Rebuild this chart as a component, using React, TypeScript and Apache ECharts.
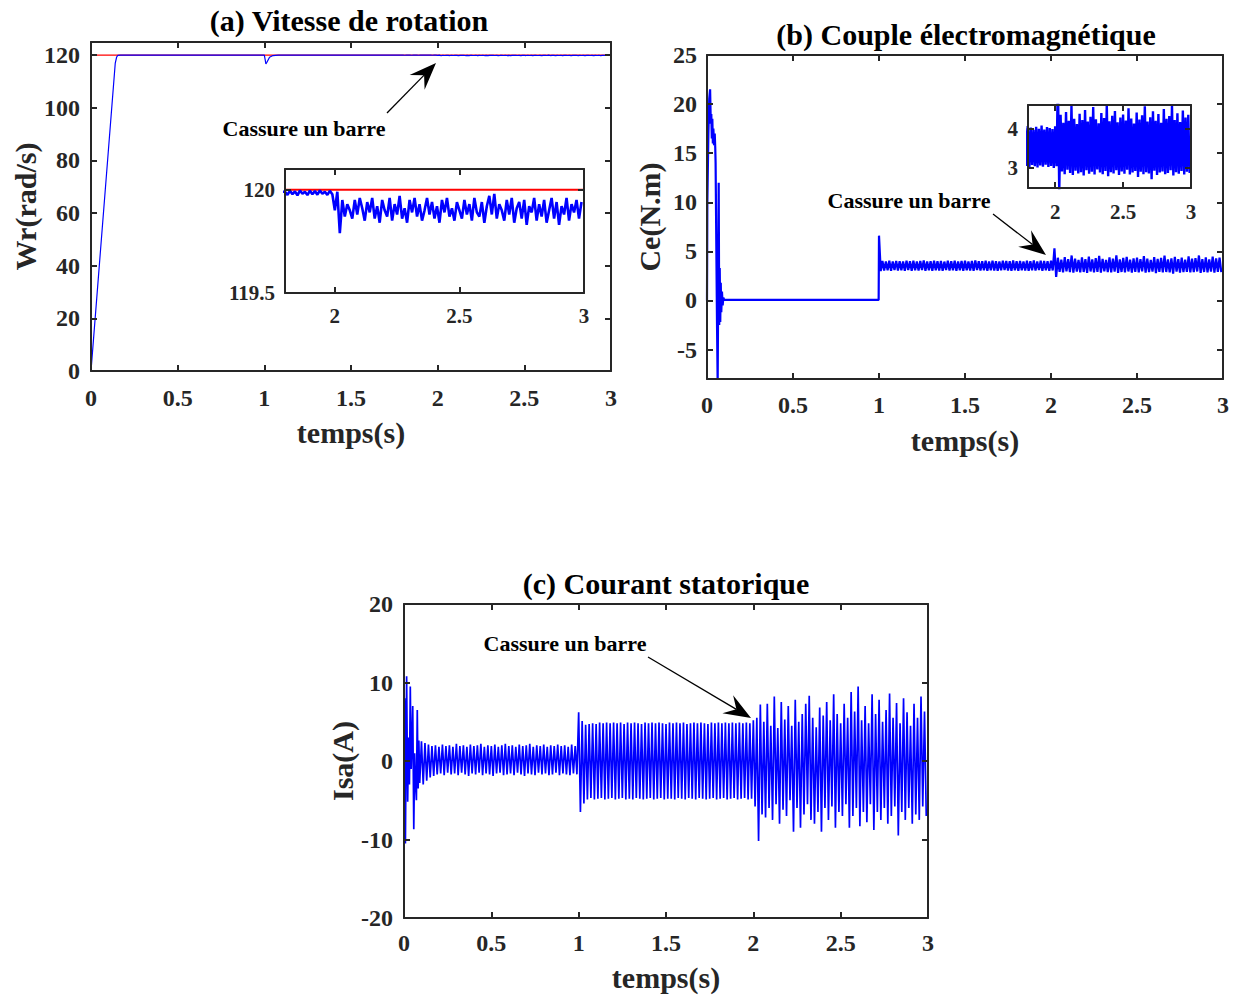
import { useEffect, useRef } from "react";
import * as echarts from "echarts";

const SERIF = '"Liberation Serif", "Times New Roman", Times, serif';
const INK = "#262626";
const BLUE = "#0000ff";
const RED = "#ff0000";

// ---- tick positions ----
const timeTicks = [0, 0.5, 1, 1.5, 2, 2.5, 3];
const zoomTimeTicks = [2, 2.5, 3];
const speedTicks = [0, 20, 40, 60, 80, 100, 120];
const zoomSpeedTicks = [119.5, 120];
const torqueTicks = [-5, 0, 5, 10, 15, 20, 25];
const zoomTorqueTicks = [3, 4];
const currentTicks = [-20, -10, 0, 10, 20];

// ---- (a) rotor speed, rad/s ----
const speedRef: [number, number][] = [
  [0, 120],
  [3, 120],
];
const speedStart: [number, number][] = [
  [0, 0], [0.1, 83.6], [0.14, 117], [0.148, 119.3], [0.155, 119.95], [0.17, 119.99],
  [0.6, 119.99], [1.0, 119.99], [1.004, 118.6], [1.009, 116.7], [1.015, 117.3],
  [1.03, 119.2], [1.05, 119.85], [1.08, 119.98], [1.5, 119.99], [1.79, 119.99],
];
// 10 ms samples from t = 1.80 s
const speedDetailT0 = 1.8;
const speedDetail = [
  119.99, 119.975, 119.995, 119.978, 119.992, 119.972, 119.996, 119.98, 119.99, 119.974,
  119.995, 119.978, 119.993, 119.976, 119.996, 119.98, 119.99, 119.975, 119.994, 119.978,
  119.9, 119.99, 119.79,
  119.95, 119.87, 119.93, 119.9, 119.86, 119.95, 119.88, 119.96, 119.91, 119.85,
  119.94, 119.89, 119.96, 119.86, 119.92, 119.84, 119.95, 119.9, 119.87, 119.96,
  119.85, 119.93, 119.88, 119.97, 119.86, 119.91, 119.84, 119.95, 119.89, 119.96,
  119.87, 119.93, 119.85, 119.9, 119.96, 119.88, 119.94, 119.86, 119.92, 119.84,
  119.95, 119.89, 119.96, 119.87, 119.91, 119.85, 119.94, 119.9, 119.86, 119.95,
  119.88, 119.93, 119.85, 119.96, 119.89, 119.87, 119.94, 119.84, 119.92, 119.97,
  119.88, 119.98, 119.86, 119.93, 119.9, 119.85, 119.95, 119.88, 119.96, 119.84,
  119.91, 119.94, 119.86, 119.95, 119.83, 119.92, 119.89, 119.96, 119.85, 119.93,
  119.87, 119.95, 119.84, 119.9, 119.96, 119.86, 119.94, 119.83, 119.92, 119.88,
  119.96, 119.85, 119.93, 119.89, 119.95, 119.86, 119.94,
];

// ---- (b) electromagnetic torque, N.m ----
const torqueStart: [number, number][] = [
  [0, 0], [0.002, 10], [0.008, 17], [0.013, 20.5], [0.018, 21.5], [0.022, 18], [0.025, 19],
  [0.028, 16.5], [0.031, 18.5], [0.034, 16], [0.037, 17.5], [0.041, 15.8], [0.045, 17],
  [0.048, 15.5], [0.05, 14], [0.054, 6], [0.058, -2], [0.062, -8.5], [0.065, 1], [0.068, 12],
  [0.071, -2.5], [0.074, 3.3], [0.077, -2.2], [0.08, 1.8], [0.083, -1.2], [0.087, 0.9],
  [0.091, -0.5], [0.095, 0.3], [0.1, 0.05], [0.998, 0.05], [1.0, 6.6], [1.01, 3.0],
];
// [peak, trough] pairs, 10 ms apart, from t = 1.02 s
const torqueBandT0 = 1.02;
const torqueBand: [number, number][] = [
  [4.02, 3.05], [3.98, 3.08], [4.05, 3.02], [3.97, 3.1], [4.03, 3.04], [4.0, 3.07], [3.96, 3.03], [4.06, 3.09], [3.99, 3.01], [4.04, 3.06],
  [3.98, 3.04], [4.02, 3.1], [4.07, 3.03], [3.97, 3.07], [4.01, 3.02], [4.05, 3.08], [3.99, 3.05], [4.03, 3.01], [3.96, 3.09], [4.04, 3.04],
  [4.0, 3.06], [4.06, 3.02], [3.98, 3.08], [4.02, 3.03], [4.05, 3.07], [3.97, 3.05], [4.03, 3.01], [4.08, 3.09], [3.99, 3.04], [4.01, 3.06],
  [4.04, 3.02], [3.98, 3.08], [4.06, 3.05], [4.0, 3.03], [3.96, 3.07], [4.05, 3.1], [4.02, 3.04], [3.99, 3.01], [4.07, 3.06], [4.01, 3.03],
  [4.03, 3.08], [3.97, 3.05], [4.05, 3.02], [4.0, 3.07], [4.08, 3.04], [3.98, 3.09], [4.04, 3.03], [4.02, 3.06], [3.99, 3.01], [4.06, 3.05],
  [5.3, 2.4],
  [4.35, 2.92], [4.15, 2.85], [4.42, 2.96], [4.2, 2.88], [4.58, 2.83], [4.25, 2.94], [4.12, 2.87], [4.38, 2.9], [4.22, 2.82], [4.47, 2.95],
  [4.18, 2.86], [4.3, 2.91], [4.55, 2.84], [4.24, 2.97], [4.14, 2.89], [4.4, 2.85], [4.27, 2.93], [4.6, 2.8], [4.19, 2.9], [4.33, 2.87],
  [4.45, 2.95], [4.16, 2.83], [4.28, 2.92], [4.36, 2.86], [4.21, 2.96], [4.52, 2.84], [4.26, 2.89], [4.13, 2.93], [4.41, 2.78], [4.23, 2.91],
  [4.34, 2.85], [4.57, 2.9], [4.18, 2.87], [4.29, 2.72], [4.44, 2.94], [4.2, 2.83], [4.37, 2.89], [4.15, 2.92], [4.5, 2.85], [4.25, 2.88],
  [4.32, 2.95], [4.58, 2.82], [4.22, 2.9], [4.39, 2.86], [4.17, 2.93], [4.46, 2.84], [4.28, 2.91], [4.35, 2.88],
];

// ---- (c) stator current, A ----
const isaStart: [number, number][] = [
  [0, 0], [0.004, 8], [0.008, -10.5], [0.015, 10.8], [0.021, -5.2], [0.026, 3], [0.031, -3],
  [0.036, 9.5], [0.041, -1], [0.045, 2], [0.05, 7], [0.056, -8.7], [0.061, 1], [0.066, -3],
  [0.071, -5], [0.076, 6.5], [0.081, -3.5], [0.085, 2.6], [0.09, -2.8],
];
// [peak, trough] pairs, one 50 Hz half-period (10 ms) apart
const isaIdleT0 = 0.1;
const isaIdle: [number, number][] = [
  [2.5, -3.0], [2.3, -2.5], [2.1, -2.1], [1.9, -1.9], [2.0, -1.7],
  [1.8, -1.6], [2.1, -1.8], [1.9, -1.5], [2.0, -1.7], [1.8, -1.6],
  [2.2, -1.8], [1.9, -1.5], [2.0, -1.7], [1.8, -1.9], [2.1, -1.6],
  [1.9, -1.7], [2.0, -1.5], [2.2, -1.8], [1.8, -1.6], [2.0, -1.7],
  [1.9, -1.9], [2.1, -1.6], [1.8, -1.5], [2.0, -1.8], [2.2, -1.7],
  [1.9, -1.6], [2.0, -1.8], [1.8, -1.5], [2.1, -1.7], [1.9, -1.9],
  [2.0, -1.6], [2.2, -1.7], [1.8, -1.8], [2.0, -1.5], [1.9, -1.7],
  [2.1, -1.6], [1.8, -1.8], [2.0, -1.7], [1.9, -1.5], [2.1, -1.8],
  [1.9, -1.6], [2.0, -1.7], [1.8, -1.8], [2.1, -1.6], [1.9, -1.7],
];
const isaLoadT0 = 1.0;
const isaLoad: [number, number][] = [
  [6.2, -6.5], [5.1, -5.4], [4.6, -4.9], [4.7, -4.7], [4.8, -4.9],
  [4.7, -4.8], [4.9, -4.7], [4.8, -4.9], [4.9, -4.8], [4.8, -4.7],
  [4.9, -4.9], [4.8, -4.8], [4.9, -4.7], [4.7, -4.9], [4.9, -4.8],
  [4.8, -4.9], [4.9, -4.7], [4.8, -4.8], [4.7, -4.9], [4.9, -4.8],
  [4.8, -4.7], [4.9, -4.9], [4.8, -4.8], [4.9, -4.7], [4.8, -4.9],
  [4.7, -4.8], [4.9, -4.8], [4.8, -4.9], [4.9, -4.7], [4.8, -4.8],
  [4.9, -4.9], [4.7, -4.7], [4.8, -4.8], [4.9, -4.9], [4.8, -4.7],
  [4.9, -4.8], [4.8, -4.9], [4.7, -4.8], [4.9, -4.7], [4.8, -4.9],
  [4.9, -4.8], [4.8, -4.7], [4.9, -4.9], [4.8, -4.8], [4.9, -4.7],
  [4.8, -4.9], [4.9, -4.8], [4.8, -4.7], [4.9, -4.9], [4.8, -4.8],
];
const isaFaultT0 = 2.0;
const isaFault: [number, number][] = [
  [5.2, -5.8], [5.5, -10.2], [7.2, -6.8], [5.0, -7.2], [7.3, -6.0], [4.5, -7.5], [8.2, -5.5], [4.2, -8.0], [7.5, -6.2], [5.3, -7.0],
  [7.0, -5.0], [4.5, -9.0], [7.8, -6.0], [5.0, -8.5], [6.0, -6.8], [7.3, -5.5], [8.3, -7.5], [5.5, -8.0], [4.3, -6.5], [6.8, -9.0],
  [5.8, -6.0], [7.5, -7.5], [5.2, -5.8], [8.5, -8.5], [6.0, -6.5], [4.8, -7.0], [7.3, -5.5], [5.5, -8.5], [8.8, -7.0], [6.3, -6.0],
  [9.5, -8.3], [5.2, -6.5], [7.0, -7.8], [4.8, -5.5], [8.5, -8.8], [6.0, -6.5], [7.8, -7.5], [5.0, -6.0], [6.5, -8.0], [8.6, -7.0],
  [5.5, -5.8], [7.4, -9.5], [4.8, -6.5], [8.0, -7.5], [6.2, -6.0], [4.5, -8.0], [7.3, -6.8], [5.5, -7.5], [8.2, -5.8], [6.3, -7.0],
];

// ---- helpers that turn sampled readings into [t, value] points ----
const STEP = 0.01;
const round = (t: number) => Math.round(t * 10000) / 10000;
const sampled = (t0: number, vals: number[]) => vals.map((v, i) => [round(t0 + i * STEP), v]);
const zigzag = (t0: number, pairs: [number, number][]) =>
  pairs.flatMap(([hi, lo], i) => [
    [round(t0 + 2 * i * STEP), hi],
    [round(t0 + (2 * i + 1) * STEP), lo],
  ]);

const speedData = [...speedStart, ...sampled(speedDetailT0, speedDetail)];
const torqueData = [...torqueStart, ...zigzag(torqueBandT0, torqueBand)];
const isaData = [
  ...isaStart,
  ...zigzag(isaIdleT0, isaIdle),
  ...zigzag(isaLoadT0, isaLoad),
  ...zigzag(isaFaultT0, isaFault),
];

// ---- layout of the five plotting boxes ----
const grids = [
  { left: 91, top: 42, width: 520, height: 329 }, // (a)
  { left: 285, top: 169, width: 299, height: 124 }, // (a) zoom
  { left: 707, top: 55, width: 516, height: 324 }, // (b)
  { left: 1028, top: 105, width: 163, height: 83 }, // (b) zoom
  { left: 404, top: 604, width: 524, height: 314 }, // (c)
];

type AxisSpec = {
  x: [number, number, number[]];
  y: [number, number, number[]];
  fs: number;
  xMargin: number;
  yMargin: number;
  xName?: string;
  yName?: string;
  xNameGap?: number;
  yNameGap?: number;
};

const axisSpecs: AxisSpec[] = [
  { x: [0, 3, timeTicks], y: [0, 125, speedTicks], fs: 24, xMargin: 15, yMargin: 11, xName: "temps(s)", yName: "Wr(rad/s)", xNameGap: 46, yNameGap: 48 },
  { x: [1.8, 3, zoomTimeTicks], y: [119.5, 120.1, zoomSpeedTicks], fs: 21, xMargin: 12, yMargin: 10 },
  { x: [0, 3, timeTicks], y: [-8, 25, torqueTicks], fs: 24, xMargin: 14, yMargin: 10, xName: "temps(s)", yName: "Ce(N.m)", xNameGap: 46, yNameGap: 43 },
  { x: [1.8, 3, zoomTimeTicks], y: [2.5, 4.6, zoomTorqueTicks], fs: 21, xMargin: 13, yMargin: 10 },
  { x: [0, 3, timeTicks], y: [-20, 20, currentTicks], fs: 24, xMargin: 13, yMargin: 11, xName: "temps(s)", yName: "Isa(A)", xNameGap: 44, yNameGap: 46 },
];

const nameStyle = { fontFamily: SERIF, fontWeight: "bold" as const, fontSize: 30, color: INK };

function buildAxes() {
  const xAxis: any[] = [];
  const yAxis: any[] = [];
  axisSpecs.forEach((s, g) => {
    const line = { show: true, onZero: false, lineStyle: { color: INK, width: 2 } };
    const tick = (vals: number[]) => ({
      show: true,
      inside: true,
      length: 6,
      customValues: vals,
      lineStyle: { color: INK, width: 2 },
    });
    const label = (vals: number[], margin: number) => ({
      show: true,
      customValues: vals,
      margin,
      fontFamily: SERIF,
      fontWeight: "bold",
      fontSize: s.fs,
      color: INK,
    });
    const base = (min: number, max: number) => ({
      type: "value",
      gridIndex: g,
      min,
      max,
      splitLine: { show: false },
      axisLine: line,
      silent: true,
      z: 4,
    });
    xAxis.push({
      ...base(s.x[0], s.x[1]),
      position: "bottom",
      axisTick: tick(s.x[2]),
      axisLabel: label(s.x[2], s.xMargin),
      name: s.xName,
      nameLocation: "middle",
      nameGap: s.xNameGap,
      nameTextStyle: nameStyle,
    });
    xAxis.push({
      ...base(s.x[0], s.x[1]),
      position: "top",
      axisTick: tick(s.x[2]),
      axisLabel: { show: false },
    });
    yAxis.push({
      ...base(s.y[0], s.y[1]),
      position: "left",
      axisTick: tick(s.y[2]),
      axisLabel: label(s.y[2], s.yMargin),
      name: s.yName,
      nameLocation: "middle",
      nameGap: s.yNameGap,
      nameTextStyle: nameStyle,
    });
    yAxis.push({
      ...base(s.y[0], s.y[1]),
      position: "right",
      axisTick: tick(s.y[2]),
      axisLabel: { show: false },
    });
  });
  return { xAxis, yAxis };
}

const trace = (name: string, data: number[][], g: number, color: string, width = 1) => ({
  type: "line",
  name,
  data,
  xAxisIndex: 2 * g,
  yAxisIndex: 2 * g,
  showSymbol: false,
  symbol: "none",
  lineStyle: { color, width },
  itemStyle: { color },
  clip: true,
  silent: true,
  z: 3,
});

// annotation arrow with a swept-back filled head
function arrow(x1: number, y1: number, x2: number, y2: number) {
  const len = Math.hypot(x2 - x1, y2 - y1);
  const ux = (x2 - x1) / len;
  const uy = (y2 - y1) / len;
  const nx = -uy;
  const ny = ux;
  const L = 27;
  const W = 10.5;
  const N = 17;
  const bx = x2 - L * ux;
  const by = y2 - L * uy;
  const notch: [number, number] = [x2 - N * ux, y2 - N * uy];
  return [
    {
      type: "line",
      z: 20,
      shape: { x1, y1, x2: notch[0], y2: notch[1] },
      style: { stroke: "#000", lineWidth: 1.3 },
    },
    {
      type: "polygon",
      z: 20,
      shape: {
        points: [
          [x2, y2],
          [bx + W * nx, by + W * ny],
          notch,
          [bx - W * nx, by - W * ny],
        ],
      },
      style: { fill: "#000" },
    },
  ];
}

const text = (s: string, x: number, y: number, size: number) => ({
  type: "text",
  z: 20,
  x,
  y,
  style: {
    text: s,
    fontFamily: SERIF,
    fontWeight: "bold",
    fontSize: size,
    fill: "#000",
    align: "center",
    verticalAlign: "middle",
  },
});

export default function App() {
  const ref = useRef<HTMLDivElement>(null);

  useEffect(() => {
    if (!ref.current) return;
    const chart = echarts.init(ref.current, undefined, { renderer: "svg" });
    const { xAxis, yAxis } = buildAxes();
    chart.setOption({
      animation: false,
      backgroundColor: "#ffffff",
      grid: grids.map((g) => ({
        ...g,
        containLabel: false,
        outerBoundsMode: "none",
        show: false,
      })),
      xAxis,
      yAxis,
      series: [
        trace("Wr ref", speedRef, 0, RED, 1.3),
        trace("Wr", speedData, 0, BLUE, 1.2),
        trace("Wr ref zoom", speedRef, 1, RED, 2),
        trace("Wr zoom", speedData, 1, BLUE, 2.6),
        trace("Ce", torqueData, 2, BLUE, 2.2),
        trace("Ce zoom", torqueData, 3, BLUE, 2.4),
        trace("Isa", isaData, 4, BLUE, 1.7),
      ],
      graphic: [
        text("(a) Vitesse de rotation", 349, 20, 30),
        text("(b) Couple électromagnétique", 966, 34, 30),
        text("(c) Courant statorique", 666, 583, 30),
        text("Cassure un barre", 304, 128, 22),
        text("Cassure un barre", 909, 200, 22),
        text("Cassure un barre", 565, 643, 22),
        ...arrow(387, 113, 436, 63),
        ...arrow(993, 214, 1046, 255),
        ...arrow(648, 657, 751, 718),
      ],
    });
    return () => chart.dispose();
  }, []);

  return (
    <div
      ref={ref}
      style={{ position: "absolute", left: 0, top: 0, width: 1239, height: 996, background: "#fff" }}
    />
  );
}
